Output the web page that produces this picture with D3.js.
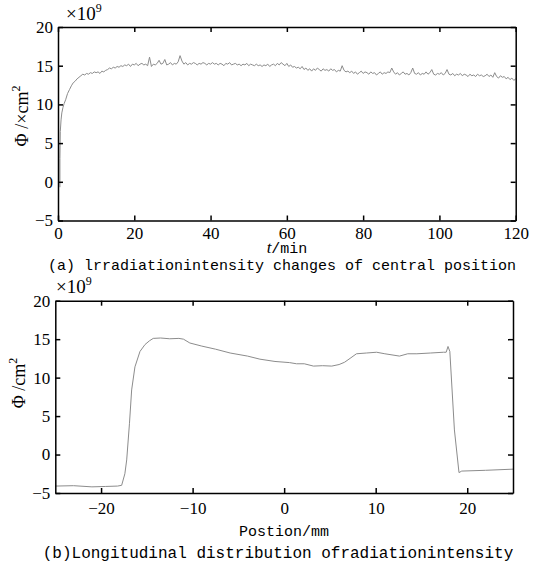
<!DOCTYPE html>
<html>
<head>
<meta charset="utf-8">
<script src="https://cdn.jsdelivr.net/npm/d3@7"></script>
<style>
  body { margin: 0; background: #fff; }
  svg { display: block; }
  .domain, .tick line { stroke: #000; stroke-width: 1.5; }
</style>
</head>
<body>
<svg width="536" height="567"></svg>
<script>

const SERIF = "'Liberation Serif', 'Times New Roman', serif";
const MONO = "'Liberation Mono', 'Courier New', monospace";

// ---- data: (a) irradiation at central position vs time ----
const riseT = [0.5, 0.5, 0.6, 0.8, 1.0, 1.3, 1.6];
const riseV = [-0.7, 3.0, 6.5, 8.0, 8.9, 9.6, 10.1];
const timeStart = 2.0, timeStep = 0.5;
const timeV = [
  10.6, 11.4, 11.9, 12.4, 12.8, 13.0, 13.3, 13.5, 13.7, 13.9,
  13.8, 14.0, 13.9, 14.1, 14.0, 14.2, 14.1, 14.2, 14.0, 14.3,
  14.2, 14.4, 14.5, 14.7, 14.6, 14.8, 14.7, 14.9, 14.8, 15.0,
  14.9, 15.1, 15.0, 15.2, 14.9, 15.2, 15.1, 15.3, 15.0, 15.2,
  15.3, 15.1, 15.2, 15.0, 16.1, 14.9, 15.2, 15.1, 15.3, 15.7,
  15.2, 15.3, 15.8, 15.1, 15.2, 15.4, 15.1, 15.3, 15.2, 15.5,
  16.3, 15.6, 15.2, 15.4, 15.1, 15.3, 15.2, 15.4, 15.3, 15.1,
  15.3, 15.2, 15.4, 15.3, 15.1, 15.3, 15.2, 15.4, 15.2, 15.3,
  15.1, 15.3, 15.2, 15.0, 15.3, 15.2, 15.4, 15.1, 15.2, 15.3,
  15.1, 15.2, 15.0, 15.2, 15.1, 15.3, 15.0, 15.2, 15.1, 15.0,
  15.2, 15.0, 15.1, 14.9, 15.1, 15.0, 15.2, 14.9, 15.1, 15.2,
  15.0, 15.3, 15.1, 15.4, 15.2, 15.0, 15.3, 14.9, 15.1, 14.8,
  14.9, 14.7, 14.8, 14.6, 14.9, 14.5, 14.7, 14.4, 14.6, 14.3,
  14.6, 14.4, 14.7, 14.5, 14.3, 14.6, 14.4, 14.5, 14.3, 14.6,
  14.4, 14.5, 14.2, 14.4, 14.3, 15.0, 14.4, 14.2, 14.3, 14.1,
  14.3, 14.0, 14.2, 13.9, 14.1, 14.3, 14.0, 14.2, 14.1, 13.9,
  14.2, 14.0, 14.1, 13.8, 14.0, 14.2, 13.9, 14.1, 14.0, 14.2,
  14.1, 14.7, 14.2, 13.9, 14.1, 13.8, 14.0, 14.2, 13.9, 14.0,
  13.8, 14.1, 14.7, 14.0, 13.9, 14.1, 13.8, 14.0, 13.9, 14.2,
  13.9, 14.1, 14.5, 13.9, 13.8, 14.0, 13.9, 14.1, 13.8, 14.0,
  14.5, 13.9, 13.8, 14.0, 13.7, 13.9, 13.8, 14.0, 13.7, 13.9,
  13.8, 13.6, 13.9, 13.7, 13.8, 13.6, 13.9, 13.7, 13.8, 13.6,
  13.7, 13.9, 13.6, 13.8, 13.5, 14.1, 13.6, 13.4, 13.7, 13.5,
  13.6, 13.3, 13.5, 13.2, 13.4, 13.1, 13.3
];
const timeTicks = [0, 20, 40, 60, 80, 100, 120];

// ---- data: (b) longitudinal distribution ----
const posX = [-25, -23, -21, -19.5, -18.2, -17.75, -17.4, -17.2, -16.9, -16.66, -16.3, -15.75, -15.2, -14.7, -14.3,
  -13.5, -12.5, -11.5, -11.0, -10.3, -9, -7.5, -5.9, -4, -2.65, -1, 0.6, 1.35, 2.2, 3.2, 4.2, 5.2, 6, 6.6, 7.2, 7.9,
  9, 10.1, 11, 12.6, 13.5, 14.5, 16, 17.4, 17.7, 17.9, 18.1, 18.6, 19.1, 19.4, 22, 25];
const posV = [-4.1, -4.05, -4.2, -4.15, -4.1, -4.0, -2.5, -0.7, 4.0, 8.4, 11.4, 13.4, 14.3, 14.8, 15.1,
  15.15, 15.05, 15.1, 15.0, 14.5, 14.1, 13.7, 13.2, 12.8, 12.4, 12.1, 11.95, 11.8, 11.8, 11.5, 11.55, 11.5, 11.7, 12.0, 12.5, 13.1,
  13.2, 13.3, 13.1, 12.8, 13.1, 13.1, 13.2, 13.3, 13.3, 14.05, 13.4, 3.2, -2.35, -2.15, -2.05, -1.9];
const posTicks = [-20, -10, 0, 10, 20];

const phiTicks = [-5, 0, 5, 10, 15, 20];

const svg = d3.select("svg");

// build point lists
const seriesA = riseT.map((t, i) => ({x: t, y: riseV[i]}))
  .concat(timeV.map((v, i) => ({x: timeStart + i * timeStep, y: v})));
const seriesB = posX.map((p, i) => ({x: p, y: posV[i]}));

function panel(box, xDomain, xTicks, data, xPad) {
  const x = d3.scaleLinear().domain(xDomain).range([box.left, box.right]);
  const y = d3.scaleLinear().domain([-5, 20]).range([box.bottom, box.top]);
  const g = svg.append("g");

  g.append("path")
    .datum(data)
    .attr("fill", "none")
    .attr("stroke", "#8c8c8c")
    .attr("stroke-width", 1)
    .attr("d", d3.line().x(d => x(d.x)).y(d => y(d.y)));

  const axes = [
    g.append("g").attr("transform", `translate(0,${box.bottom})`)
      .call(d3.axisBottom(x).tickValues(xTicks).tickSize(-5).tickSizeOuter(0).tickPadding(xPad)),
    g.append("g").attr("transform", `translate(0,${box.top})`)
      .call(d3.axisTop(x).tickValues(xTicks).tickSize(-5).tickSizeOuter(0).tickFormat("")),
    g.append("g").attr("transform", `translate(${box.left},0)`)
      .call(d3.axisLeft(y).tickValues(phiTicks).tickSize(-5).tickSizeOuter(0).tickPadding(5)),
    g.append("g").attr("transform", `translate(${box.right},0)`)
      .call(d3.axisRight(y).tickValues(phiTicks).tickSize(-5).tickSizeOuter(0).tickFormat(""))
  ];
  axes.forEach(a => a.selectAll("text")
    .style("font-family", SERIF).style("font-size", "17px").style("fill", "#000"));
  return {x, y};
}

panel({left: 58, right: 515.7, top: 27, bottom: 220.5}, [0, 120], timeTicks, seriesA, 6);
panel({left: 55.3, right: 513, top: 300.7, bottom: 493}, [-25, 25], posTicks, seriesB, 8.5);

// exponent labels
function expLabel(px, py) {
  const t = svg.append("text").attr("x", px).attr("y", py)
    .style("font-family", SERIF).style("font-size", "19px");
  t.append("tspan").text("×10");
  t.append("tspan").attr("dy", -8).style("font-size", "12px").text("9");
}
expLabel(66, 20);
expLabel(56, 293);

// y labels
function yLabel(px, py, withTimes) {
  const t = svg.append("text")
    .attr("transform", `translate(${px},${py}) rotate(-90)`)
    .attr("text-anchor", "middle")
    .style("font-family", SERIF).style("font-size", "18px");
  t.append("tspan").text(withTimes ? "Φ /×cm" : "Φ /cm");
  t.append("tspan").attr("dy", -8).style("font-size", "12px").text("2");
}
yLabel(28, 116, true);
yLabel(25, 383, false);

// x labels
const xa = svg.append("text").attr("x", 287).attr("y", 253).attr("text-anchor", "middle");
xa.append("tspan").style("font-family", SERIF).style("font-style", "italic").style("font-size", "17px").text("t");
xa.append("tspan").style("font-family", MONO).style("font-size", "15px").text("/min");

svg.append("text").attr("x", 284).attr("y", 536).attr("text-anchor", "middle")
  .style("font-family", MONO).style("font-size", "15px")
  .text("Postion/mm");

// captions
svg.append("text").attr("x", 282).attr("y", 270).attr("text-anchor", "middle")
  .style("font-family", MONO).style("font-size", "15px")
  .text("(a) lrradiationintensity changes of central position");
svg.append("text").attr("x", 278).attr("y", 558).attr("text-anchor", "middle")
  .style("font-family", MONO).style("font-size", "16px")
  .text("(b)Longitudinal distribution ofradiationintensity");

</script>
</body>
</html>
